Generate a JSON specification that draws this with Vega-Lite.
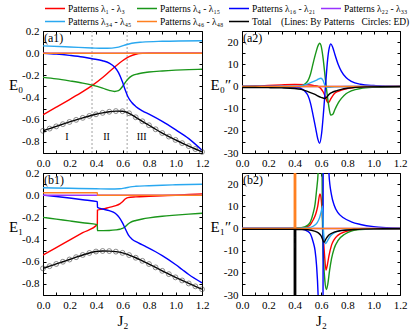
{
"$schema":"https://vega.github.io/schema/vega-lite/v6.json",
"padding":{"left":7,"top":3,"right":3,"bottom":3},
"autosize":{"type":"pad"},
"bounds":"flush",
"columns":2,
"spacing":{"row":20,"column":40},
"config":{
 "font":"Liberation Serif",
 "view":{"stroke":"black","strokeWidth":1},
 "axis":{"grid":false,"domain":false,"tickColor":"black","tickSize":-3,"labelPadding":7,"labelColor":"black","labelFont":"Liberation Serif","labelFontSize":11,"titleFont":"Liberation Serif","titleFontWeight":"normal","titleColor":"black","labelOverlap":false,"labelFlush":false,"labelBound":false,"minExtent":0},
 "legend":{"labelFont":"Liberation Serif","labelColor":"black","padding":0}
},
"datasets":{
"a1":[
{"series":"Patterns λ₁ - λ₃","J2":0,"value":-0.555},{"series":"Patterns λ₁ - λ₃","J2":0.1,"value":-0.487},{"series":"Patterns λ₁ - λ₃","J2":0.2,"value":-0.418},{"series":"Patterns λ₁ - λ₃","J2":0.3,"value":-0.347},{"series":"Patterns λ₁ - λ₃","J2":0.37,"value":-0.293},{"series":"Patterns λ₁ - λ₃","J2":0.45,"value":-0.22},{"series":"Patterns λ₁ - λ₃","J2":0.5,"value":-0.168},{"series":"Patterns λ₁ - λ₃","J2":0.55,"value":-0.115},{"series":"Patterns λ₁ - λ₃","J2":0.6,"value":-0.068},{"series":"Patterns λ₁ - λ₃","J2":0.65,"value":-0.032},{"series":"Patterns λ₁ - λ₃","J2":0.7,"value":-0.01},{"series":"Patterns λ₁ - λ₃","J2":0.75,"value":-0.002},{"series":"Patterns λ₁ - λ₃","J2":0.8,"value":0},{"series":"Patterns λ₁ - λ₃","J2":1.2,"value":0},
{"series":"Patterns λ₄ - λ₁₅","J2":0,"value":-0.218},{"series":"Patterns λ₄ - λ₁₅","J2":0.1,"value":-0.232},{"series":"Patterns λ₄ - λ₁₅","J2":0.2,"value":-0.25},{"series":"Patterns λ₄ - λ₁₅","J2":0.3,"value":-0.27},{"series":"Patterns λ₄ - λ₁₅","J2":0.37,"value":-0.288},{"series":"Patterns λ₄ - λ₁₅","J2":0.45,"value":-0.315},{"series":"Patterns λ₄ - λ₁₅","J2":0.5,"value":-0.335},{"series":"Patterns λ₄ - λ₁₅","J2":0.54,"value":-0.345},{"series":"Patterns λ₄ - λ₁₅","J2":0.57,"value":-0.338},{"series":"Patterns λ₄ - λ₁₅","J2":0.6,"value":-0.3},{"series":"Patterns λ₄ - λ₁₅","J2":0.62,"value":-0.265},{"series":"Patterns λ₄ - λ₁₅","J2":0.64,"value":-0.235},{"series":"Patterns λ₄ - λ₁₅","J2":0.67,"value":-0.205},{"series":"Patterns λ₄ - λ₁₅","J2":0.72,"value":-0.185},{"series":"Patterns λ₄ - λ₁₅","J2":0.8,"value":-0.17},{"series":"Patterns λ₄ - λ₁₅","J2":0.9,"value":-0.16},{"series":"Patterns λ₄ - λ₁₅","J2":1.0,"value":-0.153},{"series":"Patterns λ₄ - λ₁₅","J2":1.1,"value":-0.148},{"series":"Patterns λ₄ - λ₁₅","J2":1.2,"value":-0.145},
{"series":"Patterns λ₁₆ - λ₂₁","J2":0,"value":0},{"series":"Patterns λ₁₆ - λ₂₁","J2":0.1,"value":-0.008},{"series":"Patterns λ₁₆ - λ₂₁","J2":0.2,"value":-0.02},{"series":"Patterns λ₁₆ - λ₂₁","J2":0.3,"value":-0.035},{"series":"Patterns λ₁₆ - λ₂₁","J2":0.37,"value":-0.05},{"series":"Patterns λ₁₆ - λ₂₁","J2":0.45,"value":-0.068},{"series":"Patterns λ₁₆ - λ₂₁","J2":0.5,"value":-0.09},{"series":"Patterns λ₁₆ - λ₂₁","J2":0.54,"value":-0.125},{"series":"Patterns λ₁₆ - λ₂₁","J2":0.57,"value":-0.175},{"series":"Patterns λ₁₆ - λ₂₁","J2":0.6,"value":-0.26},{"series":"Patterns λ₁₆ - λ₂₁","J2":0.62,"value":-0.33},{"series":"Patterns λ₁₆ - λ₂₁","J2":0.64,"value":-0.39},{"series":"Patterns λ₁₆ - λ₂₁","J2":0.67,"value":-0.445},{"series":"Patterns λ₁₆ - λ₂₁","J2":0.7,"value":-0.48},{"series":"Patterns λ₁₆ - λ₂₁","J2":0.75,"value":-0.52},{"series":"Patterns λ₁₆ - λ₂₁","J2":0.8,"value":-0.55},{"series":"Patterns λ₁₆ - λ₂₁","J2":0.9,"value":-0.615},{"series":"Patterns λ₁₆ - λ₂₁","J2":1.0,"value":-0.69},{"series":"Patterns λ₁₆ - λ₂₁","J2":1.1,"value":-0.77},{"series":"Patterns λ₁₆ - λ₂₁","J2":1.2,"value":-0.875},
{"series":"Patterns λ₂₂ - λ₃₃","J2":0,"value":0},{"series":"Patterns λ₂₂ - λ₃₃","J2":1.2,"value":0},
{"series":"Patterns λ₃₄ - λ₄₅","J2":0,"value":0.066},{"series":"Patterns λ₃₄ - λ₄₅","J2":0.2,"value":0.056},{"series":"Patterns λ₃₄ - λ₄₅","J2":0.37,"value":0.047},{"series":"Patterns λ₃₄ - λ₄₅","J2":0.45,"value":0.044},{"series":"Patterns λ₃₄ - λ₄₅","J2":0.52,"value":0.046},{"series":"Patterns λ₃₄ - λ₄₅","J2":0.57,"value":0.054},{"series":"Patterns λ₃₄ - λ₄₅","J2":0.62,"value":0.074},{"series":"Patterns λ₃₄ - λ₄₅","J2":0.67,"value":0.09},{"series":"Patterns λ₃₄ - λ₄₅","J2":0.75,"value":0.1},{"series":"Patterns λ₃₄ - λ₄₅","J2":0.9,"value":0.107},{"series":"Patterns λ₃₄ - λ₄₅","J2":1.2,"value":0.112},
{"series":"Patterns λ₄₆ - λ₄₈","J2":0,"value":0},{"series":"Patterns λ₄₆ - λ₄₈","J2":1.2,"value":0},
{"series":"Total","J2":0,"value":-0.7},{"series":"Total","J2":0.05,"value":-0.68},{"series":"Total","J2":0.1,"value":-0.66},{"series":"Total","J2":0.15,"value":-0.64},{"series":"Total","J2":0.2,"value":-0.62},{"series":"Total","J2":0.25,"value":-0.601},{"series":"Total","J2":0.3,"value":-0.583},{"series":"Total","J2":0.35,"value":-0.566},{"series":"Total","J2":0.4,"value":-0.551},{"series":"Total","J2":0.45,"value":-0.538},{"series":"Total","J2":0.5,"value":-0.528},{"series":"Total","J2":0.55,"value":-0.522},{"series":"Total","J2":0.6,"value":-0.523},{"series":"Total","J2":0.65,"value":-0.542},{"series":"Total","J2":0.7,"value":-0.578},{"series":"Total","J2":0.75,"value":-0.614},{"series":"Total","J2":0.8,"value":-0.65},{"series":"Total","J2":0.85,"value":-0.686},{"series":"Total","J2":0.9,"value":-0.72},{"series":"Total","J2":0.95,"value":-0.752},{"series":"Total","J2":1.0,"value":-0.782},{"series":"Total","J2":1.05,"value":-0.811},{"series":"Total","J2":1.1,"value":-0.838},{"series":"Total","J2":1.15,"value":-0.864},{"series":"Total","J2":1.2,"value":-0.89}
],
"a1ed":[
{"method":"ED","J2":0,"value":-0.7},{"method":"ED","J2":0.05,"value":-0.68},{"method":"ED","J2":0.1,"value":-0.66},{"method":"ED","J2":0.15,"value":-0.64},{"method":"ED","J2":0.2,"value":-0.62},{"method":"ED","J2":0.25,"value":-0.601},{"method":"ED","J2":0.3,"value":-0.583},{"method":"ED","J2":0.35,"value":-0.566},{"method":"ED","J2":0.4,"value":-0.551},{"method":"ED","J2":0.45,"value":-0.538},{"method":"ED","J2":0.5,"value":-0.528},{"method":"ED","J2":0.55,"value":-0.522},{"method":"ED","J2":0.6,"value":-0.523},{"method":"ED","J2":0.65,"value":-0.542},{"method":"ED","J2":0.7,"value":-0.578},{"method":"ED","J2":0.75,"value":-0.614},{"method":"ED","J2":0.8,"value":-0.65},{"method":"ED","J2":0.85,"value":-0.686},{"method":"ED","J2":0.9,"value":-0.72},{"method":"ED","J2":0.95,"value":-0.752},{"method":"ED","J2":1.0,"value":-0.782},{"method":"ED","J2":1.05,"value":-0.811},{"method":"ED","J2":1.1,"value":-0.838},{"method":"ED","J2":1.15,"value":-0.864},{"method":"ED","J2":1.2,"value":-0.89}
],
"a2":[
{"series":"Patterns λ₁ - λ₃","J2":0,"value":0},{"series":"Patterns λ₁ - λ₃","J2":0.1,"value":0.2},{"series":"Patterns λ₁ - λ₃","J2":0.2,"value":0.4},{"series":"Patterns λ₁ - λ₃","J2":0.3,"value":0.7},{"series":"Patterns λ₁ - λ₃","J2":0.4,"value":0.9},{"series":"Patterns λ₁ - λ₃","J2":0.5,"value":0.8},{"series":"Patterns λ₁ - λ₃","J2":0.55,"value":0.4},{"series":"Patterns λ₁ - λ₃","J2":0.578,"value":0},{"series":"Patterns λ₁ - λ₃","J2":0.6,"value":-1},{"series":"Patterns λ₁ - λ₃","J2":0.616,"value":-2.4},{"series":"Patterns λ₁ - λ₃","J2":0.634,"value":-4.8},{"series":"Patterns λ₁ - λ₃","J2":0.645,"value":-6.6},{"series":"Patterns λ₁ - λ₃","J2":0.654,"value":-7.3},{"series":"Patterns λ₁ - λ₃","J2":0.664,"value":-6.8},{"series":"Patterns λ₁ - λ₃","J2":0.674,"value":-5.6},{"series":"Patterns λ₁ - λ₃","J2":0.69,"value":-4.1},{"series":"Patterns λ₁ - λ₃","J2":0.704,"value":-3.1},{"series":"Patterns λ₁ - λ₃","J2":0.73,"value":-2.2},{"series":"Patterns λ₁ - λ₃","J2":0.755,"value":-1.6},{"series":"Patterns λ₁ - λ₃","J2":0.8,"value":-0.9},{"series":"Patterns λ₁ - λ₃","J2":0.85,"value":-0.5},{"series":"Patterns λ₁ - λ₃","J2":0.95,"value":-0.2},{"series":"Patterns λ₁ - λ₃","J2":1.2,"value":0},
{"series":"Patterns λ₄ - λ₁₅","J2":0,"value":0},{"series":"Patterns λ₄ - λ₁₅","J2":0.2,"value":-0.1},{"series":"Patterns λ₄ - λ₁₅","J2":0.35,"value":-0.4},{"series":"Patterns λ₄ - λ₁₅","J2":0.42,"value":-0.4},{"series":"Patterns λ₄ - λ₁₅","J2":0.46,"value":0.3},{"series":"Patterns λ₄ - λ₁₅","J2":0.48,"value":1.2},{"series":"Patterns λ₄ - λ₁₅","J2":0.5,"value":2.5},{"series":"Patterns λ₄ - λ₁₅","J2":0.52,"value":5.5},{"series":"Patterns λ₄ - λ₁₅","J2":0.54,"value":10.4},{"series":"Patterns λ₄ - λ₁₅","J2":0.56,"value":15},{"series":"Patterns λ₄ - λ₁₅","J2":0.575,"value":18},{"series":"Patterns λ₄ - λ₁₅","J2":0.59,"value":19.5},{"series":"Patterns λ₄ - λ₁₅","J2":0.6,"value":18.5},{"series":"Patterns λ₄ - λ₁₅","J2":0.616,"value":12.7},{"series":"Patterns λ₄ - λ₁₅","J2":0.634,"value":2.9},{"series":"Patterns λ₄ - λ₁₅","J2":0.649,"value":-4.6},{"series":"Patterns λ₄ - λ₁₅","J2":0.662,"value":-10},{"series":"Patterns λ₄ - λ₁₅","J2":0.674,"value":-12.9},{"series":"Patterns λ₄ - λ₁₅","J2":0.69,"value":-12.5},{"series":"Patterns λ₄ - λ₁₅","J2":0.704,"value":-10.6},{"series":"Patterns λ₄ - λ₁₅","J2":0.73,"value":-7.5},{"series":"Patterns λ₄ - λ₁₅","J2":0.755,"value":-5.4},{"series":"Patterns λ₄ - λ₁₅","J2":0.79,"value":-3.3},{"series":"Patterns λ₄ - λ₁₅","J2":0.83,"value":-2},{"series":"Patterns λ₄ - λ₁₅","J2":0.9,"value":-0.9},{"series":"Patterns λ₄ - λ₁₅","J2":1.0,"value":-0.4},{"series":"Patterns λ₄ - λ₁₅","J2":1.2,"value":-0.1},
{"series":"Patterns λ₁₆ - λ₂₁","J2":0,"value":0},{"series":"Patterns λ₁₆ - λ₂₁","J2":0.3,"value":0},{"series":"Patterns λ₁₆ - λ₂₁","J2":0.4,"value":-0.3},{"series":"Patterns λ₁₆ - λ₂₁","J2":0.45,"value":-1},{"series":"Patterns λ₁₆ - λ₂₁","J2":0.48,"value":-2.3},{"series":"Patterns λ₁₆ - λ₂₁","J2":0.5,"value":-4},{"series":"Patterns λ₁₆ - λ₂₁","J2":0.52,"value":-7.5},{"series":"Patterns λ₁₆ - λ₂₁","J2":0.54,"value":-13},{"series":"Patterns λ₁₆ - λ₂₁","J2":0.56,"value":-19},{"series":"Patterns λ₁₆ - λ₂₁","J2":0.575,"value":-23.5},{"series":"Patterns λ₁₆ - λ₂₁","J2":0.59,"value":-25.6},{"series":"Patterns λ₁₆ - λ₂₁","J2":0.605,"value":-21},{"series":"Patterns λ₁₆ - λ₂₁","J2":0.62,"value":-11},{"series":"Patterns λ₁₆ - λ₂₁","J2":0.634,"value":0},{"series":"Patterns λ₁₆ - λ₂₁","J2":0.65,"value":12},{"series":"Patterns λ₁₆ - λ₂₁","J2":0.663,"value":17.5},{"series":"Patterns λ₁₆ - λ₂₁","J2":0.675,"value":19.2},{"series":"Patterns λ₁₆ - λ₂₁","J2":0.69,"value":17.5},{"series":"Patterns λ₁₆ - λ₂₁","J2":0.705,"value":14.5},{"series":"Patterns λ₁₆ - λ₂₁","J2":0.73,"value":10},{"series":"Patterns λ₁₆ - λ₂₁","J2":0.755,"value":6.8},{"series":"Patterns λ₁₆ - λ₂₁","J2":0.79,"value":4},{"series":"Patterns λ₁₆ - λ₂₁","J2":0.83,"value":2.3},{"series":"Patterns λ₁₆ - λ₂₁","J2":0.9,"value":1},{"series":"Patterns λ₁₆ - λ₂₁","J2":1.0,"value":0.4},{"series":"Patterns λ₁₆ - λ₂₁","J2":1.1,"value":0.15},{"series":"Patterns λ₁₆ - λ₂₁","J2":1.2,"value":0.05},
{"series":"Patterns λ₂₂ - λ₃₃","J2":0,"value":0},{"series":"Patterns λ₂₂ - λ₃₃","J2":1.2,"value":0},
{"series":"Patterns λ₃₄ - λ₄₅","J2":0,"value":0},{"series":"Patterns λ₃₄ - λ₄₅","J2":0.4,"value":0.1},{"series":"Patterns λ₃₄ - λ₄₅","J2":0.45,"value":0.4},{"series":"Patterns λ₃₄ - λ₄₅","J2":0.5,"value":1.2},{"series":"Patterns λ₃₄ - λ₄₅","J2":0.54,"value":2.2},{"series":"Patterns λ₃₄ - λ₄₅","J2":0.57,"value":3},{"series":"Patterns λ₃₄ - λ₄₅","J2":0.6,"value":3.7},{"series":"Patterns λ₃₄ - λ₄₅","J2":0.615,"value":2.8},{"series":"Patterns λ₃₄ - λ₄₅","J2":0.634,"value":0},{"series":"Patterns λ₃₄ - λ₄₅","J2":0.655,"value":-0.4},{"series":"Patterns λ₃₄ - λ₄₅","J2":0.7,"value":-0.2},{"series":"Patterns λ₃₄ - λ₄₅","J2":0.8,"value":0},{"series":"Patterns λ₃₄ - λ₄₅","J2":1.2,"value":0},
{"series":"Patterns λ₄₆ - λ₄₈","J2":0,"value":0},{"series":"Patterns λ₄₆ - λ₄₈","J2":1.2,"value":0},
{"series":"Total","J2":0,"value":-0.45},{"series":"Total","J2":0.1,"value":-0.5},{"series":"Total","J2":0.2,"value":-0.55},{"series":"Total","J2":0.3,"value":-0.65},{"series":"Total","J2":0.4,"value":-0.9},{"series":"Total","J2":0.45,"value":-1.3},{"series":"Total","J2":0.5,"value":-2.3},{"series":"Total","J2":0.55,"value":-3.5},{"series":"Total","J2":0.6,"value":-4.9},{"series":"Total","J2":0.63,"value":-5.4},{"series":"Total","J2":0.645,"value":-4.8},{"series":"Total","J2":0.66,"value":-3.6},{"series":"Total","J2":0.69,"value":-2.5},{"series":"Total","J2":0.72,"value":-1.9},{"series":"Total","J2":0.755,"value":-1.3},{"series":"Total","J2":0.8,"value":-0.8},{"series":"Total","J2":0.86,"value":-0.4},{"series":"Total","J2":0.95,"value":-0.2},{"series":"Total","J2":1.2,"value":-0.05}
],
"b1":[
{"series":"Patterns λ₁ - λ₃","J2":0,"value":-0.54},{"series":"Patterns λ₁ - λ₃","J2":0.1,"value":-0.473},{"series":"Patterns λ₁ - λ₃","J2":0.2,"value":-0.405},{"series":"Patterns λ₁ - λ₃","J2":0.3,"value":-0.338},{"series":"Patterns λ₁ - λ₃","J2":0.41,"value":-0.265},{"series":"Patterns λ₁ - λ₃","J2":0.411,"value":-0.135},{"series":"Patterns λ₁ - λ₃","J2":0.45,"value":-0.125},{"series":"Patterns λ₁ - λ₃","J2":0.5,"value":-0.11},{"series":"Patterns λ₁ - λ₃","J2":0.55,"value":-0.095},{"series":"Patterns λ₁ - λ₃","J2":0.58,"value":-0.078},{"series":"Patterns λ₁ - λ₃","J2":0.6,"value":-0.06},{"series":"Patterns λ₁ - λ₃","J2":0.62,"value":-0.035},{"series":"Patterns λ₁ - λ₃","J2":0.64,"value":-0.022},{"series":"Patterns λ₁ - λ₃","J2":0.7,"value":-0.015},{"series":"Patterns λ₁ - λ₃","J2":0.8,"value":-0.01},{"series":"Patterns λ₁ - λ₃","J2":0.9,"value":-0.005},{"series":"Patterns λ₁ - λ₃","J2":1.0,"value":0},{"series":"Patterns λ₁ - λ₃","J2":1.1,"value":0.006},{"series":"Patterns λ₁ - λ₃","J2":1.2,"value":0.012},
{"series":"Patterns λ₄ - λ₁₅","J2":0,"value":-0.2},{"series":"Patterns λ₄ - λ₁₅","J2":0.1,"value":-0.216},{"series":"Patterns λ₄ - λ₁₅","J2":0.2,"value":-0.232},{"series":"Patterns λ₄ - λ₁₅","J2":0.3,"value":-0.248},{"series":"Patterns λ₄ - λ₁₅","J2":0.41,"value":-0.265},{"series":"Patterns λ₄ - λ₁₅","J2":0.411,"value":-0.32},{"series":"Patterns λ₄ - λ₁₅","J2":0.5,"value":-0.318},{"series":"Patterns λ₄ - λ₁₅","J2":0.55,"value":-0.313},{"series":"Patterns λ₄ - λ₁₅","J2":0.58,"value":-0.307},{"series":"Patterns λ₄ - λ₁₅","J2":0.6,"value":-0.3},{"series":"Patterns λ₄ - λ₁₅","J2":0.62,"value":-0.285},{"series":"Patterns λ₄ - λ₁₅","J2":0.64,"value":-0.262},{"series":"Patterns λ₄ - λ₁₅","J2":0.66,"value":-0.245},{"series":"Patterns λ₄ - λ₁₅","J2":0.7,"value":-0.228},{"series":"Patterns λ₄ - λ₁₅","J2":0.75,"value":-0.215},{"series":"Patterns λ₄ - λ₁₅","J2":0.8,"value":-0.205},{"series":"Patterns λ₄ - λ₁₅","J2":0.9,"value":-0.19},{"series":"Patterns λ₄ - λ₁₅","J2":1.0,"value":-0.18},{"series":"Patterns λ₄ - λ₁₅","J2":1.1,"value":-0.171},{"series":"Patterns λ₄ - λ₁₅","J2":1.2,"value":-0.163},
{"series":"Patterns λ₁₆ - λ₂₁","J2":0,"value":0},{"series":"Patterns λ₁₆ - λ₂₁","J2":0.1,"value":-0.012},{"series":"Patterns λ₁₆ - λ₂₁","J2":0.2,"value":-0.026},{"series":"Patterns λ₁₆ - λ₂₁","J2":0.3,"value":-0.041},{"series":"Patterns λ₁₆ - λ₂₁","J2":0.41,"value":-0.058},{"series":"Patterns λ₁₆ - λ₂₁","J2":0.411,"value":-0.11},{"series":"Patterns λ₁₆ - λ₂₁","J2":0.45,"value":-0.125},{"series":"Patterns λ₁₆ - λ₂₁","J2":0.5,"value":-0.14},{"series":"Patterns λ₁₆ - λ₂₁","J2":0.545,"value":-0.163},{"series":"Patterns λ₁₆ - λ₂₁","J2":0.575,"value":-0.2},{"series":"Patterns λ₁₆ - λ₂₁","J2":0.6,"value":-0.25},{"series":"Patterns λ₁₆ - λ₂₁","J2":0.62,"value":-0.3},{"series":"Patterns λ₁₆ - λ₂₁","J2":0.645,"value":-0.36},{"series":"Patterns λ₁₆ - λ₂₁","J2":0.67,"value":-0.395},{"series":"Patterns λ₁₆ - λ₂₁","J2":0.72,"value":-0.43},{"series":"Patterns λ₁₆ - λ₂₁","J2":0.77,"value":-0.46},{"series":"Patterns λ₁₆ - λ₂₁","J2":0.85,"value":-0.51},{"series":"Patterns λ₁₆ - λ₂₁","J2":0.9,"value":-0.545},{"series":"Patterns λ₁₆ - λ₂₁","J2":1.0,"value":-0.625},{"series":"Patterns λ₁₆ - λ₂₁","J2":1.05,"value":-0.67},{"series":"Patterns λ₁₆ - λ₂₁","J2":1.1,"value":-0.715},{"series":"Patterns λ₁₆ - λ₂₁","J2":1.2,"value":-0.79},
{"series":"Patterns λ₂₂ - λ₃₃","J2":0,"value":0},{"series":"Patterns λ₂₂ - λ₃₃","J2":1.2,"value":0},
{"series":"Patterns λ₃₄ - λ₄₅","J2":0,"value":0.067},{"series":"Patterns λ₃₄ - λ₄₅","J2":0.2,"value":0.062},{"series":"Patterns λ₃₄ - λ₄₅","J2":0.4,"value":0.058},{"series":"Patterns λ₃₄ - λ₄₅","J2":0.5,"value":0.056},{"series":"Patterns λ₃₄ - λ₄₅","J2":0.58,"value":0.058},{"series":"Patterns λ₃₄ - λ₄₅","J2":0.62,"value":0.065},{"series":"Patterns λ₃₄ - λ₄₅","J2":0.66,"value":0.075},{"series":"Patterns λ₃₄ - λ₄₅","J2":0.7,"value":0.08},{"series":"Patterns λ₃₄ - λ₄₅","J2":0.8,"value":0.085},{"series":"Patterns λ₃₄ - λ₄₅","J2":0.9,"value":0.09},{"series":"Patterns λ₃₄ - λ₄₅","J2":1.0,"value":0.094},{"series":"Patterns λ₃₄ - λ₄₅","J2":1.2,"value":0.099},
{"series":"Patterns λ₄₆ - λ₄₈","J2":0,"value":0.022},{"series":"Patterns λ₄₆ - λ₄₈","J2":0.41,"value":0.022},{"series":"Patterns λ₄₆ - λ₄₈","J2":0.411,"value":0},{"series":"Patterns λ₄₆ - λ₄₈","J2":1.2,"value":0},
{"series":"Total","J2":0,"value":-0.66},{"series":"Total","J2":0.05,"value":-0.64},{"series":"Total","J2":0.1,"value":-0.62},{"series":"Total","J2":0.15,"value":-0.6},{"series":"Total","J2":0.2,"value":-0.58},{"series":"Total","J2":0.25,"value":-0.559},{"series":"Total","J2":0.3,"value":-0.539},{"series":"Total","J2":0.35,"value":-0.521},{"series":"Total","J2":0.4,"value":-0.508},{"series":"Total","J2":0.45,"value":-0.503},{"series":"Total","J2":0.5,"value":-0.504},{"series":"Total","J2":0.55,"value":-0.509},{"series":"Total","J2":0.6,"value":-0.52},{"series":"Total","J2":0.65,"value":-0.54},{"series":"Total","J2":0.7,"value":-0.564},{"series":"Total","J2":0.75,"value":-0.592},{"series":"Total","J2":0.8,"value":-0.621},{"series":"Total","J2":0.85,"value":-0.651},{"series":"Total","J2":0.9,"value":-0.682},{"series":"Total","J2":0.95,"value":-0.712},{"series":"Total","J2":1.0,"value":-0.741},{"series":"Total","J2":1.05,"value":-0.769},{"series":"Total","J2":1.1,"value":-0.796},{"series":"Total","J2":1.15,"value":-0.822},{"series":"Total","J2":1.2,"value":-0.848}
],
"b1ed":[
{"method":"ED","J2":0,"value":-0.66},{"method":"ED","J2":0.05,"value":-0.64},{"method":"ED","J2":0.1,"value":-0.62},{"method":"ED","J2":0.15,"value":-0.6},{"method":"ED","J2":0.2,"value":-0.58},{"method":"ED","J2":0.25,"value":-0.559},{"method":"ED","J2":0.3,"value":-0.539},{"method":"ED","J2":0.35,"value":-0.521},{"method":"ED","J2":0.4,"value":-0.508},{"method":"ED","J2":0.45,"value":-0.503},{"method":"ED","J2":0.5,"value":-0.504},{"method":"ED","J2":0.55,"value":-0.509},{"method":"ED","J2":0.6,"value":-0.52},{"method":"ED","J2":0.65,"value":-0.54},{"method":"ED","J2":0.7,"value":-0.564},{"method":"ED","J2":0.75,"value":-0.592},{"method":"ED","J2":0.8,"value":-0.621},{"method":"ED","J2":0.85,"value":-0.651},{"method":"ED","J2":0.9,"value":-0.682},{"method":"ED","J2":0.95,"value":-0.712},{"method":"ED","J2":1.0,"value":-0.741},{"method":"ED","J2":1.05,"value":-0.769},{"method":"ED","J2":1.1,"value":-0.796},{"method":"ED","J2":1.15,"value":-0.822},{"method":"ED","J2":1.2,"value":-0.848}
],
"b2":[
{"series":"Patterns λ₁ - λ₃","J2":0,"value":0},{"series":"Patterns λ₁ - λ₃","J2":0.35,"value":0},{"series":"Patterns λ₁ - λ₃","J2":0.45,"value":0.2},{"series":"Patterns λ₁ - λ₃","J2":0.5,"value":0.9},{"series":"Patterns λ₁ - λ₃","J2":0.52,"value":1.8},{"series":"Patterns λ₁ - λ₃","J2":0.54,"value":3.8},{"series":"Patterns λ₁ - λ₃","J2":0.56,"value":6.5},{"series":"Patterns λ₁ - λ₃","J2":0.575,"value":10},{"series":"Patterns λ₁ - λ₃","J2":0.592,"value":15.5},{"series":"Patterns λ₁ - λ₃","J2":0.602,"value":13},{"series":"Patterns λ₁ - λ₃","J2":0.612,"value":4},{"series":"Patterns λ₁ - λ₃","J2":0.62,"value":-6},{"series":"Patterns λ₁ - λ₃","J2":0.628,"value":-13},{"series":"Patterns λ₁ - λ₃","J2":0.638,"value":-18.8},{"series":"Patterns λ₁ - λ₃","J2":0.648,"value":-16.5},{"series":"Patterns λ₁ - λ₃","J2":0.66,"value":-12.5},{"series":"Patterns λ₁ - λ₃","J2":0.68,"value":-7.5},{"series":"Patterns λ₁ - λ₃","J2":0.7,"value":-5},{"series":"Patterns λ₁ - λ₃","J2":0.73,"value":-3},{"series":"Patterns λ₁ - λ₃","J2":0.78,"value":-1.5},{"series":"Patterns λ₁ - λ₃","J2":0.85,"value":-0.6},{"series":"Patterns λ₁ - λ₃","J2":0.95,"value":-0.2},{"series":"Patterns λ₁ - λ₃","J2":1.2,"value":0},
{"series":"Patterns λ₄ - λ₁₅","J2":0,"value":0},{"series":"Patterns λ₄ - λ₁₅","J2":0.35,"value":0},{"series":"Patterns λ₄ - λ₁₅","J2":0.45,"value":0.3},{"series":"Patterns λ₄ - λ₁₅","J2":0.5,"value":1.5},{"series":"Patterns λ₄ - λ₁₅","J2":0.52,"value":3},{"series":"Patterns λ₄ - λ₁₅","J2":0.54,"value":6.8},{"series":"Patterns λ₄ - λ₁₅","J2":0.555,"value":11},{"series":"Patterns λ₄ - λ₁₅","J2":0.566,"value":17},{"series":"Patterns λ₄ - λ₁₅","J2":0.578,"value":25},{"series":"Patterns λ₄ - λ₁₅","J2":0.59,"value":45},{"series":"Patterns λ₄ - λ₁₅","J2":0.603,"value":55},{"series":"Patterns λ₄ - λ₁₅","J2":0.612,"value":0},{"series":"Patterns λ₄ - λ₁₅","J2":0.62,"value":-15},{"series":"Patterns λ₄ - λ₁₅","J2":0.63,"value":-24},{"series":"Patterns λ₄ - λ₁₅","J2":0.641,"value":-27.5},{"series":"Patterns λ₄ - λ₁₅","J2":0.652,"value":-25},{"series":"Patterns λ₄ - λ₁₅","J2":0.665,"value":-19},{"series":"Patterns λ₄ - λ₁₅","J2":0.68,"value":-13.6},{"series":"Patterns λ₄ - λ₁₅","J2":0.7,"value":-9},{"series":"Patterns λ₄ - λ₁₅","J2":0.73,"value":-5.4},{"series":"Patterns λ₄ - λ₁₅","J2":0.78,"value":-2.6},{"series":"Patterns λ₄ - λ₁₅","J2":0.83,"value":-1.2},{"series":"Patterns λ₄ - λ₁₅","J2":0.9,"value":-0.5},{"series":"Patterns λ₄ - λ₁₅","J2":1.0,"value":-0.2},{"series":"Patterns λ₄ - λ₁₅","J2":1.2,"value":0},
{"series":"Patterns λ₁₆ - λ₂₁","J2":0,"value":0},{"series":"Patterns λ₁₆ - λ₂₁","J2":0.35,"value":0},{"series":"Patterns λ₁₆ - λ₂₁","J2":0.45,"value":-0.3},{"series":"Patterns λ₁₆ - λ₂₁","J2":0.5,"value":-1.3},{"series":"Patterns λ₁₆ - λ₂₁","J2":0.52,"value":-2.5},{"series":"Patterns λ₁₆ - λ₂₁","J2":0.54,"value":-6},{"series":"Patterns λ₁₆ - λ₂₁","J2":0.555,"value":-10},{"series":"Patterns λ₁₆ - λ₂₁","J2":0.566,"value":-16.5},{"series":"Patterns λ₁₆ - λ₂₁","J2":0.578,"value":-30},{"series":"Patterns λ₁₆ - λ₂₁","J2":0.59,"value":-60},{"series":"Patterns λ₁₆ - λ₂₁","J2":0.61,"value":-100},{"series":"Patterns λ₁₆ - λ₂₁","J2":0.614,"value":-100},{"series":"Patterns λ₁₆ - λ₂₁","J2":0.618,"value":100},{"series":"Patterns λ₁₆ - λ₂₁","J2":0.64,"value":60},{"series":"Patterns λ₁₆ - λ₂₁","J2":0.66,"value":25},{"series":"Patterns λ₁₆ - λ₂₁","J2":0.68,"value":15},{"series":"Patterns λ₁₆ - λ₂₁","J2":0.7,"value":10.5},{"series":"Patterns λ₁₆ - λ₂₁","J2":0.73,"value":7},{"series":"Patterns λ₁₆ - λ₂₁","J2":0.77,"value":4.8},{"series":"Patterns λ₁₆ - λ₂₁","J2":0.83,"value":3},{"series":"Patterns λ₁₆ - λ₂₁","J2":0.9,"value":1.8},{"series":"Patterns λ₁₆ - λ₂₁","J2":1.0,"value":0.8},{"series":"Patterns λ₁₆ - λ₂₁","J2":1.1,"value":0.35},{"series":"Patterns λ₁₆ - λ₂₁","J2":1.2,"value":0.15},
{"series":"Patterns λ₂₂ - λ₃₃","J2":0,"value":0},{"series":"Patterns λ₂₂ - λ₃₃","J2":1.2,"value":0},
{"series":"Patterns λ₃₄ - λ₄₅","J2":0,"value":0},{"series":"Patterns λ₃₄ - λ₄₅","J2":0.4,"value":0},{"series":"Patterns λ₃₄ - λ₄₅","J2":0.5,"value":0.3},{"series":"Patterns λ₃₄ - λ₄₅","J2":0.54,"value":1},{"series":"Patterns λ₃₄ - λ₄₅","J2":0.57,"value":2.5},{"series":"Patterns λ₃₄ - λ₄₅","J2":0.59,"value":5},{"series":"Patterns λ₃₄ - λ₄₅","J2":0.605,"value":8.5},{"series":"Patterns λ₃₄ - λ₄₅","J2":0.612,"value":10.2},{"series":"Patterns λ₃₄ - λ₄₅","J2":0.618,"value":0},{"series":"Patterns λ₃₄ - λ₄₅","J2":0.625,"value":-5},{"series":"Patterns λ₃₄ - λ₄₅","J2":0.636,"value":-6.8},{"series":"Patterns λ₃₄ - λ₄₅","J2":0.65,"value":-5.5},{"series":"Patterns λ₃₄ - λ₄₅","J2":0.67,"value":-3.5},{"series":"Patterns λ₃₄ - λ₄₅","J2":0.7,"value":-2},{"series":"Patterns λ₃₄ - λ₄₅","J2":0.75,"value":-1},{"series":"Patterns λ₃₄ - λ₄₅","J2":0.85,"value":-0.3},{"series":"Patterns λ₃₄ - λ₄₅","J2":1.2,"value":0},
{"series":"Patterns λ₄₆ - λ₄₈","J2":0,"value":0},{"series":"Patterns λ₄₆ - λ₄₈","J2":0.397,"value":0},{"series":"Patterns λ₄₆ - λ₄₈","J2":0.399,"value":300},{"series":"Patterns λ₄₆ - λ₄₈","J2":0.406,"value":300},{"series":"Patterns λ₄₆ - λ₄₈","J2":0.408,"value":0},{"series":"Patterns λ₄₆ - λ₄₈","J2":1.2,"value":0},
{"series":"Total","J2":0,"value":-0.4},{"series":"Total","J2":0.2,"value":-0.4},{"series":"Total","J2":0.397,"value":-0.4},{"series":"Total","J2":0.399,"value":-300},{"series":"Total","J2":0.406,"value":-300},{"series":"Total","J2":0.408,"value":-0.4},{"series":"Total","J2":0.5,"value":-0.6},{"series":"Total","J2":0.55,"value":-1.2},{"series":"Total","J2":0.58,"value":-2},{"series":"Total","J2":0.6,"value":-3.2},{"series":"Total","J2":0.623,"value":-6.2},{"series":"Total","J2":0.64,"value":-4.5},{"series":"Total","J2":0.66,"value":-3},{"series":"Total","J2":0.7,"value":-1.7},{"series":"Total","J2":0.75,"value":-1},{"series":"Total","J2":0.85,"value":-0.5},{"series":"Total","J2":1.0,"value":-0.2},{"series":"Total","J2":1.2,"value":-0.1}
]
},
"concat":[
 {"width":159,"height":122,
  "resolve":{"axis":{"x":"independent","y":"independent"}},
  "layer":[
   {"data":{"values":[{"J2":0.37},{"J2":0.635}]},
    "mark":{"type":"rule","color":"#8c8c8c","strokeWidth":0.8,"strokeDash":[2,2]},
    "encoding":{"x":{"field":"J2","type":"quantitative","scale":{"domain":[0,1.2],"nice":false},"axis":null}}},
   {"data":{"name":"a1"},
    "mark":{"type":"line","interpolate":"monotone","clip":true},
    "encoding":{
     "x":{"field":"J2","type":"quantitative","scale":{"domain":[0,1.2],"nice":false},"axis":{"orient":"bottom","values":[0,0.1,0.2,0.3,0.4,0.5,0.6,0.7,0.8,0.9,1,1.1,1.2],"labelExpr":"round(datum.value*10)%2==0 ? format(datum.value,'.1f') : ''","title":null}},
     "y":{"field":"value","type":"quantitative","scale":{"domain":[-0.9,0.2],"nice":false,"zero":false},"axis":{"orient":"left","values":[-0.9,-0.8,-0.7,-0.6,-0.5,-0.4,-0.3,-0.2,-0.1,0,0.1,0.2],"labelExpr":"round(datum.value*10)%2==0 ? replace(format(datum.value,'.1f'),'\u2212','-') : ''","title":"E₀","titleAngle":0,"titleFontSize":15,"titlePadding":6}},
     "color":{"field":"series","type":"nominal","scale":{"domain":["Patterns λ₁ - λ₃","Patterns λ₄ - λ₁₅","Patterns λ₁₆ - λ₂₁","Patterns λ₂₂ - λ₃₃","Patterns λ₃₄ - λ₄₅","Patterns λ₄₆ - λ₄₈","Total"],"range":["#ff0000","#1a961a","#0000ff","#9933ff","#2aa8f0","#ff8020","#000000"]},
      "legend":{"orient":"none","direction":"horizontal","legendX":1,"legendY":-28,"columns":4,"gridAlign":"all","columnPadding":4,"rowPadding":2,"clipHeight":11,"symbolType":"stroke","symbolSize":400,"labelOffset":2,"labelFontSize":9.5,"labelLimit":0,"title":null}},
     "strokeWidth":{"field":"series","type":"nominal","scale":{"domain":["Patterns λ₁ - λ₃","Patterns λ₄ - λ₁₅","Patterns λ₁₆ - λ₂₁","Patterns λ₂₂ - λ₃₃","Patterns λ₃₄ - λ₄₅","Patterns λ₄₆ - λ₄₈","Total"],"range":[1.4,1.4,1.4,1.4,1.4,1.4,2.6]}}
    }},
   {"data":{"name":"a1ed"},
    "mark":{"type":"point","filled":false,"size":24,"strokeWidth":0.8,"color":"#333333"},
    "encoding":{
     "x":{"field":"J2","type":"quantitative","axis":null},
     "y":{"field":"value","type":"quantitative","axis":null},
     "shape":{"field":"method","type":"nominal","scale":{"range":["circle"]},"legend":{"orient":"none","legendX":238,"legendY":-14,"title":"(Lines: By Patterns\u00a0\u00a0\u00a0Circles: ED)","titleFont":"Liberation Serif","titleFontSize":9.5,"titleFontWeight":"normal","titleColor":"black","titlePadding":0,"titleLimit":0,"symbolOpacity":0,"labelOpacity":0}}
    }},
   {"data":{"values":[{"J2":0.18,"value":-0.76,"label":"I"},{"J2":0.48,"value":-0.76,"label":"II"},{"J2":0.745,"value":-0.76,"label":"III"}]},
    "mark":{"type":"text","fontSize":10,"color":"black","font":"Liberation Serif"},
    "encoding":{"x":{"field":"J2","type":"quantitative","axis":null},"y":{"field":"value","type":"quantitative","axis":null},"text":{"field":"label"}}},
   {"data":{"values":[{"J2":0,"value":0.2,"label":"(a1)"}]},
    "mark":{"type":"text","align":"left","baseline":"top","dx":1,"dy":2,"fontSize":12,"color":"black","font":"Liberation Serif"},
    "encoding":{
     "x":{"field":"J2","type":"quantitative","axis":{"orient":"top","values":[0,0.1,0.2,0.3,0.4,0.5,0.6,0.7,0.8,0.9,1,1.1,1.2],"labels":false,"title":null}},
     "y":{"field":"value","type":"quantitative","axis":{"orient":"right","values":[-0.9,-0.8,-0.7,-0.6,-0.5,-0.4,-0.3,-0.2,-0.1,0,0.1,0.2],"labels":false,"title":null}},
     "text":{"field":"label"}}}
  ]},
 {"width":158,"height":122,
  "resolve":{"axis":{"x":"independent","y":"independent"}},
  "layer":[
   {"data":{"name":"a2"},
    "mark":{"type":"line","interpolate":"monotone","clip":true},
    "encoding":{
     "x":{"field":"J2","type":"quantitative","scale":{"domain":[0,1.2],"nice":false},"axis":{"orient":"bottom","values":[0,0.1,0.2,0.3,0.4,0.5,0.6,0.7,0.8,0.9,1,1.1,1.2],"labelExpr":"round(datum.value*10)%2==0 ? format(datum.value,'.1f') : ''","title":null}},
     "y":{"field":"value","type":"quantitative","scale":{"domain":[-30,25],"nice":false,"zero":false},"axis":{"orient":"left","values":[-30,-25,-20,-15,-10,-5,0,5,10,15,20,25],"labelExpr":"datum.value%10==0 ? replace(format(datum.value,'d'),'\u2212','-') : ''","title":"E₀″","titleAngle":0,"titleFontSize":15,"titlePadding":3}},
     "color":{"field":"series","type":"nominal"},
     "strokeWidth":{"field":"series","type":"nominal"}
    }},
   {"data":{"values":[{"J2":0,"value":25,"label":"(a2)"}]},
    "mark":{"type":"text","align":"left","baseline":"top","dx":1,"dy":2,"fontSize":12,"color":"black","font":"Liberation Serif"},
    "encoding":{
     "x":{"field":"J2","type":"quantitative","axis":{"orient":"top","values":[0,0.1,0.2,0.3,0.4,0.5,0.6,0.7,0.8,0.9,1,1.1,1.2],"labels":false,"title":null}},
     "y":{"field":"value","type":"quantitative","axis":{"orient":"right","values":[-30,-25,-20,-15,-10,-5,0,5,10,15,20,25],"labels":false,"title":null}},
     "text":{"field":"label"}}}
  ]},
 {"width":159,"height":122,
  "resolve":{"axis":{"x":"independent","y":"independent"}},
  "layer":[
   {"data":{"name":"b1"},
    "mark":{"type":"line","interpolate":"monotone","clip":true},
    "encoding":{
     "x":{"field":"J2","type":"quantitative","scale":{"domain":[0,1.2],"nice":false},"axis":{"orient":"bottom","values":[0,0.1,0.2,0.3,0.4,0.5,0.6,0.7,0.8,0.9,1,1.1,1.2],"labelExpr":"round(datum.value*10)%2==0 ? format(datum.value,'.1f') : ''","title":"J₂","titleFontSize":15,"titlePadding":3}},
     "y":{"field":"value","type":"quantitative","scale":{"domain":[-0.9,0.2],"nice":false,"zero":false},"axis":{"orient":"left","values":[-0.9,-0.8,-0.7,-0.6,-0.5,-0.4,-0.3,-0.2,-0.1,0,0.1,0.2],"labelExpr":"round(datum.value*10)%2==0 ? replace(format(datum.value,'.1f'),'\u2212','-') : ''","title":"E₁","titleAngle":0,"titleFontSize":15,"titlePadding":6}},
     "color":{"field":"series","type":"nominal"},
     "strokeWidth":{"field":"series","type":"nominal"}
    }},
   {"data":{"name":"b1ed"},
    "mark":{"type":"point","filled":false,"size":24,"strokeWidth":0.8,"color":"#333333"},
    "encoding":{
     "x":{"field":"J2","type":"quantitative","axis":null},
     "y":{"field":"value","type":"quantitative","axis":null},
     "shape":{"field":"method","type":"nominal"}
    }},
   {"data":{"values":[{"J2":0,"value":0.2,"label":"(b1)"}]},
    "mark":{"type":"text","align":"left","baseline":"top","dx":1,"dy":2,"fontSize":12,"color":"black","font":"Liberation Serif"},
    "encoding":{
     "x":{"field":"J2","type":"quantitative","axis":{"orient":"top","values":[0,0.1,0.2,0.3,0.4,0.5,0.6,0.7,0.8,0.9,1,1.1,1.2],"labels":false,"title":null}},
     "y":{"field":"value","type":"quantitative","axis":{"orient":"right","values":[-0.9,-0.8,-0.7,-0.6,-0.5,-0.4,-0.3,-0.2,-0.1,0,0.1,0.2],"labels":false,"title":null}},
     "text":{"field":"label"}}}
  ]},
 {"width":158,"height":122,
  "resolve":{"axis":{"x":"independent","y":"independent"}},
  "layer":[
   {"data":{"name":"b2"},
    "mark":{"type":"line","interpolate":"monotone","clip":true},
    "encoding":{
     "x":{"field":"J2","type":"quantitative","scale":{"domain":[0,1.2],"nice":false},"axis":{"orient":"bottom","values":[0,0.1,0.2,0.3,0.4,0.5,0.6,0.7,0.8,0.9,1,1.1,1.2],"labelExpr":"round(datum.value*10)%2==0 ? format(datum.value,'.1f') : ''","title":"J₂","titleFontSize":15,"titlePadding":3}},
     "y":{"field":"value","type":"quantitative","scale":{"domain":[-30,25],"nice":false,"zero":false},"axis":{"orient":"left","values":[-30,-25,-20,-15,-10,-5,0,5,10,15,20,25],"labelExpr":"datum.value%10==0 ? replace(format(datum.value,'d'),'\u2212','-') : ''","title":"E₁″","titleAngle":0,"titleFontSize":15,"titlePadding":3}},
     "color":{"field":"series","type":"nominal"},
     "strokeWidth":{"field":"series","type":"nominal"}
    }},
   {"data":{"values":[{"J2":0,"value":25,"label":"(b2)"}]},
    "mark":{"type":"text","align":"left","baseline":"top","dx":1,"dy":2,"fontSize":12,"color":"black","font":"Liberation Serif"},
    "encoding":{
     "x":{"field":"J2","type":"quantitative","axis":{"orient":"top","values":[0,0.1,0.2,0.3,0.4,0.5,0.6,0.7,0.8,0.9,1,1.1,1.2],"labels":false,"title":null}},
     "y":{"field":"value","type":"quantitative","axis":{"orient":"right","values":[-30,-25,-20,-15,-10,-5,0,5,10,15,20,25],"labels":false,"title":null}},
     "text":{"field":"label"}}}
  ]}
]
}
